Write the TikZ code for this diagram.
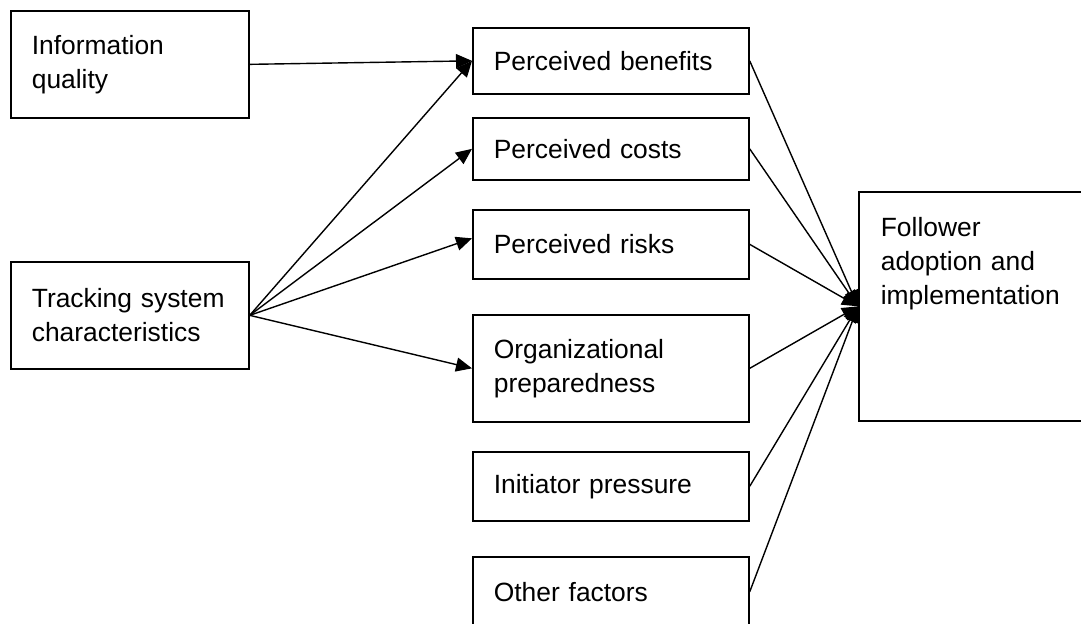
\documentclass[tikz,border=0pt]{standalone}
\usepackage{fontspec}
\setmainfont{Liberation Sans}
\usetikzlibrary{arrows.meta}

\begin{document}
\begin{tikzpicture}[
        x=0.5pt, y=-0.5pt,
        >={Triangle[length=8pt,width=7pt]},
        every node/.style={font=\fontsize{13.2}{17}\selectfont},
        factorBox/.style={draw, line width=0.85pt, anchor=north west, align=left, inner xsep=10.5pt, inner ysep=0pt},
        leftBox/.style={factorBox, minimum width=119pt, minimum height=53.5pt, text width=98pt},
        midBox/.style={factorBox, minimum width=138pt, text width=117pt},
        linkArrow/.style={->, line width=0.7pt}
    ]
        \useasboundingbox (0,0) rectangle (1081,624);

        % Antecedents on the left
        \node[leftBox] (info) at (10,10) {Information\\quality};
        \node[leftBox] (trk) at (10,261) {Tracking system\\characteristics};

        % Middle column of factors
        \node[midBox, minimum height=33pt] (ben) at (472,27) {Perceived benefits};
        \node[midBox, minimum height=31pt] (cost) at (472,117) {Perceived costs};
        \node[midBox, minimum height=34.5pt] (risk) at (472,209) {Perceived risks};
        \node[midBox, minimum height=53.5pt] (org) at (472,314) {Organizational\\preparedness};
        \node[midBox, minimum height=34.5pt] (init) at (472,451) {Initiator pressure};
        \node[midBox, minimum height=35pt] (oth) at (472,556) {Other factors};

        % Outcome, text held at the top
        \node[factorBox, minimum width=120pt, text width=98pt, inner xsep=11pt, inner ysep=13pt,
            text height=9.5pt, text depth=79pt] (fol) at (858,191) {Follower\\adoption and\\implementation};

        % Links into the middle column
        \draw[linkArrow] (info.east) -- (ben.west);
        \foreach \t in {ben, cost, org}
            \draw[linkArrow] (trk.east) -- (\t.west);
        \draw[linkArrow] (trk.east) -- ([yshift=3pt]risk.west);

        % Links into the outcome
        \foreach \s in {ben, cost, risk, org, init, oth}
            \draw[linkArrow] (\s.east) -- (fol.west);

    \end{tikzpicture}
\end{document}
